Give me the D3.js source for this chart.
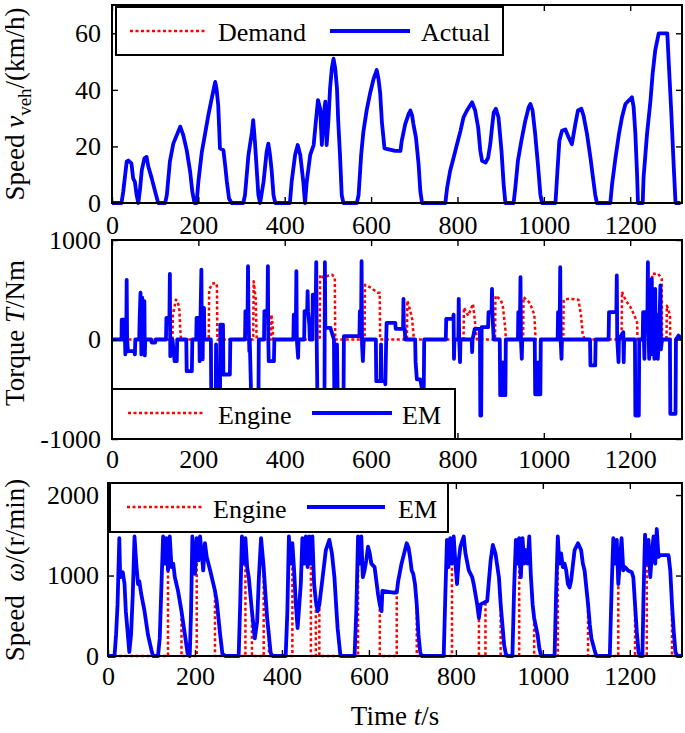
<!DOCTYPE html>
<html>
<head>
<meta charset="utf-8">
<script src="https://cdn.jsdelivr.net/npm/d3@7"></script>
<style>
  body { margin: 0; background: #fff; }
  text { font-family: "Liberation Serif", "Times New Roman", serif; }
</style>
</head>
<body>
<div id="container"></div>
<script>

// ---- data: [time s, value] ----

var timeTicks = [0, 200, 400, 600, 800, 1000, 1200];

// vehicle speed demand, km/h
var speedDemand = [
  [0,0],[22,0],[26,4],[34,14.6],[38,15],[45,14],[49,8.7],[53,7.5],[57,2.8],[61,0],
  [65,5],[69,11.6],[75,15.8],[80,16.3],[84,13],[92,8.7],[100,4],[107,0],[123,0],
  [127,2.8],[134,14.6],[142,21],[150,24],[158,27],[165,24],[173,18.7],[181,11],[186,4],[191,0],[196,0],
  [200,7.5],[208,18],[215,24],[223,31],[231,37],[239,42.8],[242,40.5],[246,34.6],[250,19.3],[258,18.7],[262,13.4],[266,7.5],[271,1.6],[277,0],[304,0],
  [308,2.8],[316,17],[324,25],[327,29.3],[331,21.6],[335,12.2],[339,2.8],[343,0],
  [351,7.5],[358,18],[362,21],[366,17],[370,11],[374,2.8],[378,0],[412,0],
  [416,7.5],[424,17],[430,20.5],[436,17],[443,7.5],[447,0],[451,7.5],[459,17],[467,20.5],[472,28.7],[477,36.4],[482,33.4],[486,20.5],[490,31],[494,35.8],[497,20.5],[501,28.7],[505,40.5],[509,47.5],[513,51],[517,47.5],[521,40.5],[524,28.7],[528,17],[532,2.8],[536,0],[567,0],
  [571,2.8],[577,17],[582,25],[590,33],[598,39],[606,44],[613,47],[617,44],[621,39],[625,28.7],[631,19.3],[656,18.4],[668,18.4],
  [671,22],[679,27.9],[687,31.5],[691,32.7],[695,30.9],[698,27.9],[704,23],[710,13.7],[714,4.2],[718,0],[772,0],
  [776,5.3],[783,11.3],[791,16],[799,20.8],[807,25.5],[814,30.3],[822,32.7],[834,35.6],[841,32.7],[848,26.7],[853,18.4],[857,14.9],[865,14.3],[871,16],[876,20.8],[880,26.7],[884,32],[889,33.3],[895,30.3],[902,18.4],[907,6.5],[911,0],[930,0],
  [934,5.3],[940,14.9],[948,22],[957,29],[965,33.9],[969,35],[974,32.7],[980,24.4],[987,12.5],[992,3],[996,0],[1027,0],
  [1031,10],[1036,22],[1042,25.5],[1050,26],[1058,23],[1065,20.8],[1073,27.9],[1079,32.7],[1087,33.3],[1092,30.9],[1100,24.4],[1108,16],[1113,10],[1119,3],[1123,0],[1154,0],
  [1158,6.5],[1166,16],[1174,24.4],[1181,30.3],[1189,35],[1204,37.4],[1208,33.9],[1212,24.4],[1216,10],[1218,0],[1229,0],
  [1231,9],[1239,24.4],[1247,36.2],[1252,45.7],[1258,54],[1266,60],[1286,60],[1289,50.5],[1295,32.7],[1301,12.5],[1305,0],[1316,0]
];
// actual speed follows demand to within the line width
var speedActual = speedDemand;

// engine torque, Nm
var torqueEngine = [
  [0,0],[140,0],[141,250],[148,400],[152,385],[156,300],[158,100],[160,0],
  [224,0],[225,500],[232,560],[240,570],[243,540],[244,0],
  [327,0],[328,586],[333,400],[335,0],
  [368,0],[369,250],[372,150],[373,0],
  [481,0],[482,650],[490,620],[500,640],[510,650],[516,620],[517,0],
  [585,0],[586,550],[600,520],[615,470],[620,470],[621,0],
  [683,0],[684,390],[690,300],[695,210],[698,60],[699,0],
  [814,0],[815,320],[825,240],[836,358],[840,200],[845,0],
  [887,0],[888,440],[900,400],[905,340],[911,100],[912,0],
  [952,0],[953,425],[965,380],[970,340],[978,250],[981,0],
  [1045,0],[1046,400],[1060,410],[1080,400],[1086,250],[1090,50],[1095,0],
  [1180,0],[1181,480],[1190,390],[1200,330],[1210,240],[1216,170],[1217,0],
  [1250,0],[1251,660],[1265,660],[1273,610],[1274,0],
  [1284,0],[1285,340],[1292,250],[1293,0],[1320,0]
];

// EM torque, Nm
var torqueEM = [
  [0,0],[22,0],[22.5,200],[28,200],[28.5,0],[30,0],[31,-150],[32,0],[33,0],[34,600],[35,0],[37,-117],[52,-117],[53,-150],[54,0],
  [63,0],[64,200],[66,470],[67,200],[68,-150],[69,0],[70,420],[71,0],[75,385],[76,-160],[77,0],[90,0],[92,-30],[100,-30],[101,0],
  [125,0],[126,218],[133,218],[134,660],[135,-167],[136,0],[140,0],[145,-218],[150,-218],[151,0],[172,0],[173,-318],[185,-318],[186,0],
  [195,0],[196,218],[202,218],[203,-218],[204,0],[207,703],[208,0],[210,-200],[211,318],[213,318],[214,0],
  [229,0],[230,-700],[240,-700],[241,-50],[243,-700],[250,-700],[251,150],[257,150],[258,-352],[273,-352],[274,0],
  [308,0],[309,285],[314,285],[315,737],[316,285],[318,-117],[319,0],[323,-700],[339,-700],[340,0],
  [352,0],[353,285],[360,285],[361,737],[362,0],[363,-218],[375,-218],[376,0],
  [420,0],[421,251],[426,251],[427,687],[428,0],[431,-184],[432,0],
  [445,0],[446,285],[452,285],[453,486],[454,285],[457,150],[458,0],
  [464,0],[465,452],[472,452],[473,777],[474,0],[476,-700],[492,-700],[493,777],[494,117],[506,117],[507,100],[514,0],[515,-700],[520,-700],[521,-50],[523,-700],[536,-700],[537,33],[573,33],
  [574,285],[577,285],[578,787],[579,-50],[581,-218],[583,0],[611,0],[612,-419],[622,-419],[623,-50],[624,-419],[632,-419],[633,-450],[635,0],[636,167],[656,167],
  [657,107],[674,107],[675,409],[676,107],[678,107],[679,0],[702,0],[703,-220],[706,-400],[714,-400],[717,-480],[722,-480],[723,0],
  [773,0],[774,208],[790,208],[791,250],[792,-194],[793,0],[802,0],[803,409],[804,0],[806,-228],[807,0],
  [833,0],[834,-127],[835,0],[840,107],[852,107],[853,-764],[855,-764],[856,124],[871,124],[872,275],[879,275],[880,509],[881,250],[884,0],
  [898,0],[899,-560],[904,-560],[905,-230],[906,-560],[911,-560],[912,0],
  [940,0],[941,275],[945,275],[946,626],[947,0],[949,-194],[950,0],
  [979,0],[980,-550],[986,-550],[987,-230],[988,-550],[992,-550],[993,0],
  [1032,0],[1033,275],[1037,275],[1038,727],[1039,0],[1041,-194],[1042,0],
  [1107,0],[1108,-261],[1119,-261],[1120,0],
  [1150,0],[1151,275],[1168,275],[1169,643],[1170,0],[1173,-228],[1174,0],[1184,74],[1185,-228],[1186,0],
  [1211,0],[1212,-764],[1220,-764],[1221,0],
  [1229,0],[1230,275],[1233,-194],[1234,275],[1240,275],[1241,777],[1242,150],[1244,-194],[1246,300],[1248,-150],[1250,610],[1251,-100],[1254,200],[1256,-194],[1258,509],[1259,-150],[1262,250],[1264,-194],[1268,200],[1270,543],[1271,-100],[1274,0],
  [1292,0],[1293,-747],[1305,-747],[1306,0],[1312,40],[1320,0]
];

// engine speed, r/min
var speedEngine = [
  [0,0],[138,0],[138,1063],[142,1485],[146,1105],[150,1148],[153.7,979],[161,810],[169,557],[169,0],
  [204,0],[204,1464],[208,1190],[211.7,1485],[215.5,1274],[219,1063],[223,1401],[227,1232],[231,1148],[235,1063],[238.7,979],[246,810],[246,0],
  [316,0],[316,1464],[320,1105],[323.7,979],[331,557],[331,0],
  [358,0],[358,1105],[362,768],[366,472],[370,257],[370,0],
  [424,0],[424,1401],[428,1063],[432,641],[436,346],[440,641],[443.4,895],[447,1464],[451,1148],[455,1485],[459,1105],[462.7,1485],[466.6,1148],[466.6,0],
  [478,0],[478,684],[482,557],[486,641],[486,0],
  [575,0],[575,1485],[578.6,1148],[582.5,1485],[586,979],[590,1063],[594,1190],[598,1359],[602,1274],[605.6,1148],[613,1105],[617,937],[621,768],[625,641],[625,0],
  [664,0],[664,789],[667.5,937],[675,1148],[683,1317],[687,1401],[691,1350],[694.5,1232],[698.4,1063],[702,1021],[706,895],[710,641],[710,0],
  [791,0],[791,1148],[795,1485],[799,1148],[802.7,895],[806.5,1190],[810.4,1359],[818,1485],[822,1274],[829.7,1063],[837.5,979],[841,895],[849,641],[853,472],[853,0],
  [868,0],[868,673],[872,684],[880,1190],[885,1380],[891,1274],[899,979],[903,641],[903,0],
  [945.6,0],[945.6,1464],[949.4,979],[953.3,1464],[957,1148],[961,1317],[965,1148],[968.7,1485],[972.6,979],[976.5,641],[980,472],[980,0],
  [1034.4,0],[1034.4,1485],[1038,1148],[1042,1274],[1046,1105],[1050,1148],[1053.7,1063],[1057.6,895],[1061.5,852],[1065,937],[1073,1317],[1080.8,1401],[1088,1317],[1092,1148],[1096,1063],[1100,852],[1104,641],[1104,0],
  [1173.5,0],[1173.5,895],[1177,1148],[1181,1464],[1185,1063],[1189,1105],[1196,1063],[1204.4,1042],[1208,979],[1212,641],[1212,0],
  [1239,0],[1239,1148],[1243,1443],[1247,979],[1251,1274],[1254.6,1485],[1258.5,1148],[1262,1578],[1266,1232],[1270,1253],[1289,1253],[1293,1063],[1297,641],[1297,0],[1320,0]
];

// EM speed, r/min
var speedEM = [
  [0,0],[15,0],[18.5,262],[22,641],[26,1464],[28,979],[31,1000],[34,1042],[38,895],[41,557],[45,304],[49,50],[53,262],[57,768],[61,1485],[65,1148],[69,895],[72,930],[76.5,768],[84,557],[92,262],[100,72],[103.5,0],[115,0],
  [119,219],[123,895],[126.7,1485],[130,1148],[134,1464],[138,1063],[142,1485],[146,1105],[150,1148],[153.7,979],[161,810],[169,557],[177,262],[183,30],[188,0],
  [191,557],[194,1485],[200,1021],[204,1464],[208,1190],[211.7,1485],[215.5,1274],[219,1063],[223,1401],[227,1232],[231,1148],[235,1063],[238.7,979],[246,810],[250,684],[258,262],[263,30],[269.6,0],[300.5,0],
  [304,641],[308,1485],[312,1148],[316,1464],[320,1105],[323.7,979],[331,557],[337.6,219],[343,430],[347,979],[352,1464],[358,1105],[362,768],[366,472],[374,42],[378,0],[408.6,0],
  [412.5,557],[416,1485],[420,1148],[424,1401],[428,1063],[432,641],[436,346],[440,641],[443.4,895],[447,1464],[451,1148],[455,1485],[459,1105],[462.7,1485],[466.6,1148],[470,1485],[474,895],[478,684],[482,557],[486,641],[493.6,979],[501,1317],[509,1443],[515,1274],[520.7,979],[524.5,641],[528,346],[534,30],[536,0],[567,0],
  [571,557],[575,1485],[578.6,1148],[582.5,1485],[586,979],[590,1063],[594,1190],[598,1359],[602,1274],[605.6,1148],[613,1105],[617,937],[621,768],[625,641],[629,557],[631,810],[656,789],[664,789],
  [667.5,937],[675,1148],[683,1317],[687,1401],[691,1350],[694.5,1232],[698.4,1063],[702,1021],[706,895],[710,641],[714,262],[718,50],[721,0],[772,0],
  [775.6,726],[779.5,1443],[783,1105],[787,1464],[791,1148],[795,1485],[799,1148],[802.7,895],[806.5,1190],[810.4,1359],[818,1485],[822,1274],[829.7,1063],[837.5,979],[841,895],[849,641],[853,472],[857,641],[864.5,662],[872,684],[880,1190],[885,1380],[891,1274],[899,979],[903,641],[907,388],[911,135],[914.7,30],[918,0],[930,0],
  [934,852],[938,1443],[941.7,1148],[945.6,1464],[949.4,979],[953.3,1464],[957,1148],[961,1317],[965,1148],[968.7,1485],[972.6,979],[976.5,641],[980,472],[988,262],[992,93],[996,0],[1027,0],
  [1030.6,810],[1034.4,1485],[1038,1148],[1042,1274],[1046,1105],[1050,1148],[1053.7,1063],[1057.6,895],[1061.5,852],[1065,937],[1073,1317],[1080.8,1401],[1088,1317],[1092,1148],[1096,1063],[1100,852],[1104,641],[1108,388],[1111.7,219],[1119,72],[1123,0],[1154,0],
  [1158,810],[1162,1464],[1166,1148],[1170,1443],[1173.5,895],[1177,1148],[1181,1464],[1185,1063],[1189,1105],[1196,1063],[1204.4,1042],[1208,979],[1212,641],[1216,304],[1220,50],[1223,0],[1229,0],
  [1231.4,726],[1235,1507],[1239,1148],[1243,1443],[1247,979],[1251,1274],[1254.6,1485],[1258.5,1148],[1262,1578],[1266,1232],[1270,1253],[1289,1253],[1293,1063],[1297,641],[1301,304],[1305,50],[1309,0],[1320,0]
];

// ---- drawing ----

var RED = "#ff0000", BLUE = "#0000ff", DOTS = "3,2.5";

var svg = d3.select("#container")
  .append("svg")
  .attr("width", 685)
  .attr("height", 733);

// plain integers with an ASCII minus, as in the original
var plain = function(d) { return String(d); };

function styleAxis(sel) {
  sel.attr("font-family", null).attr("font-size", 26);
  sel.select(".domain").remove();
  sel.selectAll("line").attr("stroke", "#000").attr("stroke-width", 1.4);
  sel.selectAll("text").attr("fill", "#000");
}

function drawPanel(p) {
  var x = d3.scaleLinear().domain([0, 1320]).range([p.left, p.right]);
  var y = d3.scaleLinear().domain(p.yDomain).range([p.bottom, p.top]);

  svg.append("clipPath").attr("id", "clip" + p.id)
    .append("rect")
    .attr("x", p.left).attr("y", p.top - 1)
    .attr("width", p.right - p.left).attr("height", p.bottom - p.top + 3);

  var g = svg.append("g");
  var line = d3.line().x(function(d) { return x(d[0]); }).y(function(d) { return y(d[1]); });

  p.series.forEach(function(s) {
    g.append("path")
      .datum(s.data)
      .attr("clip-path", "url(#clip" + p.id + ")")
      .attr("fill", "none")
      .attr("stroke", s.color)
      .attr("stroke-width", s.width)
      .attr("stroke-dasharray", s.dash)
      .attr("stroke-linejoin", "round")
      .attr("d", line);
  });

  // ticks on all four sides, pointing inward
  g.append("g").attr("transform", "translate(0," + p.bottom + ")")
    .call(d3.axisBottom(x).tickValues(timeTicks).tickFormat(plain).tickSizeInner(-6).tickSizeOuter(0).tickPadding(p.xPad))
    .call(styleAxis);
  g.append("g").attr("transform", "translate(0," + p.top + ")")
    .call(d3.axisTop(x).tickValues(timeTicks).tickSizeInner(-6).tickSizeOuter(0).tickFormat(""))
    .call(styleAxis);
  g.append("g").attr("transform", "translate(" + p.left + ",0)")
    .call(d3.axisLeft(y).tickValues(p.yTicks).tickFormat(plain).tickSizeInner(-6).tickSizeOuter(0).tickPadding(p.yPad))
    .call(styleAxis);
  g.append("g").attr("transform", "translate(" + p.right + ",0)")
    .call(d3.axisRight(y).tickValues(p.yTicks).tickSizeInner(-6).tickSizeOuter(0).tickFormat(""))
    .call(styleAxis);

  g.append("rect")
    .attr("x", p.left).attr("y", p.top)
    .attr("width", p.right - p.left).attr("height", p.bottom - p.top)
    .attr("fill", "none").attr("stroke", "#000").attr("stroke-width", 2);

  // legend
  var L = p.legend;
  var lg = svg.append("g");
  lg.append("rect")
    .attr("x", L.x0).attr("y", L.y0)
    .attr("width", L.x1 - L.x0).attr("height", L.y1 - L.y0)
    .attr("fill", "#fff").attr("stroke", "#000").attr("stroke-width", 2);
  L.items.forEach(function(it, i) {
    var s = p.series[i];
    lg.append("line")
      .attr("x1", it.a).attr("x2", it.b).attr("y1", L.ly).attr("y2", L.ly)
      .attr("stroke", s.color).attr("stroke-width", s.width)
      .attr("stroke-dasharray", s.dash);
    lg.append("text")
      .attr("x", it.t).attr("y", L.ty)
      .attr("font-size", 26)
      .text(it.label);
  });
}

drawPanel({
  id: 1, left: 112, right: 682, top: 5, bottom: 203,
  yDomain: [0, 70], yTicks: [0, 20, 40, 60], xPad: 13, yPad: 11,
  series: [
    {data: speedDemand, color: RED, width: 2.5, dash: DOTS},
    {data: speedActual, color: BLUE, width: 3.8, dash: null}
  ],
  legend: {x0: 116, y0: 7, x1: 503, y1: 55, ly: 31, ty: 41,
    items: [{a: 130, b: 207, t: 218, label: "Demand"}, {a: 330, b: 410, t: 421, label: "Actual"}]}
});

drawPanel({
  id: 2, left: 112, right: 682, top: 240, bottom: 439,
  yDomain: [-1000, 1000], yTicks: [-1000, 0, 1000], xPad: 11, yPad: 11,
  series: [
    {data: torqueEngine, color: RED, width: 2.5, dash: DOTS},
    {data: torqueEM, color: BLUE, width: 3.8, dash: null}
  ],
  legend: {x0: 112, y0: 389, x1: 455, y1: 439, ly: 413, ty: 424,
    items: [{a: 128, b: 203, t: 218, label: "Engine"}, {a: 312, b: 392, t: 402, label: "EM"}]}
});

drawPanel({
  id: 3, left: 108, right: 682, top: 483, bottom: 656,
  yDomain: [0, 2150], yTicks: [0, 1000, 2000], xPad: 11, yPad: 9,
  series: [
    {data: speedEngine, color: RED, width: 2.5, dash: DOTS},
    {data: speedEM, color: BLUE, width: 3.8, dash: null}
  ],
  legend: {x0: 110, y0: 483, x1: 448, y1: 532, ly: 507, ty: 518,
    items: [{a: 127, b: 203, t: 213, label: "Engine"}, {a: 307, b: 385, t: 398, label: "EM"}]}
});

// axis titles
var t1 = svg.append("text")
  .attr("transform", "translate(24,104) rotate(-90)")
  .attr("text-anchor", "middle").attr("font-size", 27);
t1.append("tspan").text("Speed ");
t1.append("tspan").attr("font-style", "italic").text("v");
t1.append("tspan").attr("font-size", 19).attr("dy", 7).text("veh");
t1.append("tspan").attr("dy", -7).text("/(km/h)");

var t2 = svg.append("text")
  .attr("transform", "translate(24,333) rotate(-90)")
  .attr("text-anchor", "middle").attr("font-size", 27);
t2.append("tspan").text("Torque ");
t2.append("tspan").attr("font-style", "italic").text("T");
t2.append("tspan").text("/Nm");

var t3 = svg.append("text")
  .attr("transform", "translate(24,570) rotate(-90)")
  .attr("text-anchor", "middle").attr("font-size", 27);
t3.append("tspan").text("Speed\u00a0\u00a0");
t3.append("tspan").attr("font-style", "italic").text("\u03c9");
t3.append("tspan").text("/(r/min)");

var tx = svg.append("text")
  .attr("x", 395).attr("y", 725)
  .attr("text-anchor", "middle").attr("font-size", 27);
tx.append("tspan").text("Time ");
tx.append("tspan").attr("font-style", "italic").text("t");
tx.append("tspan").text("/s");

</script>
</body>
</html>
